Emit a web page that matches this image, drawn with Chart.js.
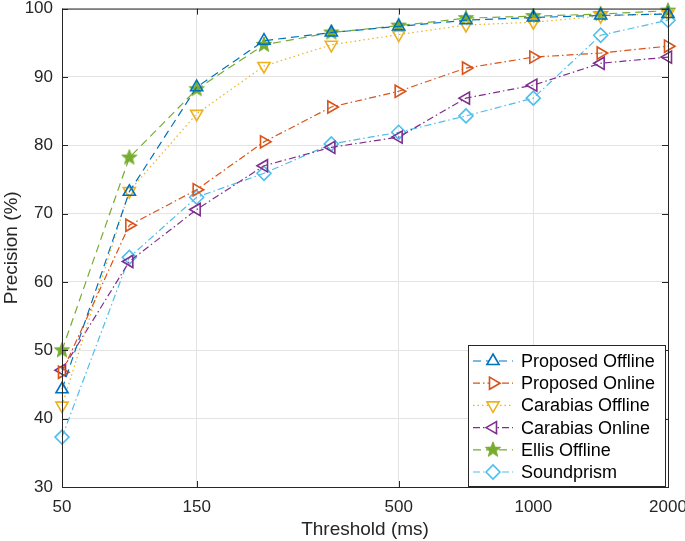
<!DOCTYPE html>
<html>
<head>
<meta charset="utf-8">
<script src="https://cdn.jsdelivr.net/npm/chart.js@4"></script>
<style>
  html, body { margin: 0; padding: 0; background: #fff; }
  #wrap { width: 685px; height: 541px; }
</style>
</head>
<body>
<div id="wrap"><canvas id="chart"></canvas></div>
<script>
// thresholds in ms, one per point (equally spaced on the plot)
const thresholds = [50, 100, 150, 200, 300, 500, 700, 1000, 1500, 2000];
const tickLabels = [50, 150, 500, 1000, 2000];
const yTicks = [30, 40, 50, 60, 70, 80, 90, 100];

const proposedOffline = [44.3, 73.2, 88.5, 95.3, 96.5, 97.4, 98.3, 98.7, 99.0, 99.2];
const proposedOnline  = [46.8, 68.3, 73.5, 80.5, 85.6, 87.9, 91.3, 92.9, 93.5, 94.5];
const carabiasOffline = [41.9, 73.3, 84.6, 91.6, 94.7, 96.2, 97.6, 98.0, 98.9, 99.3];
const carabiasOnline  = [47.1, 63.0, 70.6, 77.0, 79.7, 81.2, 86.9, 88.8, 92.0, 92.9];
const ellisOffline    = [50.0, 78.2, 88.2, 94.7, 96.5, 97.5, 98.6, 98.9, 99.2, 99.7];
const soundprism      = [37.3, 63.6, 72.4, 75.9, 80.2, 81.9, 84.3, 86.9, 96.1, 98.3];

const FONT = "'Liberation Sans', Arial, Helvetica, sans-serif";
const AXIS = "#262626";

function starImage(color, r) {
  const c = document.createElement("canvas");
  const s = Math.ceil(r * 2 + 2);
  c.width = s; c.height = s;
  const g = c.getContext("2d");
  g.translate(s / 2, s / 2);
  g.beginPath();
  for (let i = 0; i < 10; i++) {
    const rr = i % 2 ? r * 0.42 : r;
    const a = -Math.PI / 2 + i * Math.PI / 5;
    g.lineTo(Math.cos(a) * rr, Math.sin(a) * rr);
  }
  g.closePath();
  g.fillStyle = color;
  g.fill();
  g.strokeStyle = color;
  g.lineWidth = 1;
  g.stroke();
  return c;
}

const toPoints = (arr) => arr.map((v, i) => ({ x: i, y: v }));

function series(label, values, color, dash, pointStyle, rotation, radius) {
  return {
    label: label,
    data: toPoints(values),
    borderColor: color,
    backgroundColor: color,
    borderWidth: 1.2,
    borderDash: dash,
    pointStyle: pointStyle,
    rotation: rotation,
    pointRadius: radius,
    pointBorderWidth: 1.6,
    pointBorderColor: color,
    pointBackgroundColor: "rgba(0,0,0,0)",
    pointHoverRadius: radius,
    tension: 0,
    fill: false,
    clip: false,
  };
}

const datasets = [
  series("Proposed Offline", proposedOffline, "#0072BD", [8, 5], "triangle", 0, 7),
  series("Proposed Online", proposedOnline, "#D95319", [7, 3, 1.5, 3], "triangle", 90, 7),
  series("Carabias Offline", carabiasOffline, "#EDB120", [1.5, 3], "triangle", 180, 7),
  series("Carabias Online", carabiasOnline, "#7E2F8E", [7, 3, 1.5, 3], "triangle", 270, 7),
  series("Ellis Offline", ellisOffline, "#77AC30", [8, 5], starImage("#77AC30", 8), 0, 7),
  series("Soundprism", soundprism, "#4DBEEE", [7, 3, 1.5, 3], "rectRot", 0, 7),
];

// axes box, inward tick marks and MATLAB-like legend
const boxPlugin = {
  id: "boxPlugin",
  afterDraw(chart) {
    const { ctx, chartArea: a, scales } = chart;
    ctx.save();
    ctx.strokeStyle = AXIS;
    ctx.lineWidth = 1;
    ctx.strokeRect(a.left + 0.5, a.top + 0.5, a.right - a.left, a.bottom - a.top);
    const tl = 6;
    ctx.beginPath();
    tickLabels.forEach((t) => {
      const x = Math.round(scales.x.getPixelForValue(thresholds.indexOf(t))) + 0.5;
      ctx.moveTo(x, a.bottom); ctx.lineTo(x, a.bottom - tl);
      ctx.moveTo(x, a.top); ctx.lineTo(x, a.top + tl);
    });
    yTicks.forEach((t) => {
      const y = Math.round(scales.y.getPixelForValue(t)) + 0.5;
      ctx.moveTo(a.left, y); ctx.lineTo(a.left + tl, y);
      ctx.moveTo(a.right, y); ctx.lineTo(a.right - tl, y);
    });
    ctx.stroke();

    // legend
    const lx = 468, ly = 345, lw = 197, lh = 141, row = 22.2;
    ctx.fillStyle = "#fff";
    ctx.fillRect(lx, ly, lw, lh);
    ctx.strokeStyle = AXIS;
    ctx.strokeRect(lx + 0.5, ly + 0.5, lw, lh);
    ctx.font = "18px " + FONT;
    ctx.textBaseline = "middle";
    chart.data.datasets.forEach((ds, i) => {
      const y = ly + 16 + i * row;
      ctx.strokeStyle = ds.borderColor;
      ctx.lineWidth = 1.2;
      ctx.setLineDash(ds.borderDash);
      ctx.beginPath();
      ctx.moveTo(lx + 5, y); ctx.lineTo(lx + 45, y);
      ctx.stroke();
      ctx.setLineDash([]);
      ctx.lineWidth = ds.pointBorderWidth;
      ctx.fillStyle = "#fff";
      Chart.helpers.drawPoint(ctx, {
        pointStyle: ds.pointStyle, rotation: ds.rotation, radius: ds.pointRadius,
        borderWidth: ds.pointBorderWidth,
      }, lx + 25, y);
      ctx.fillStyle = "#000";
      ctx.fillText(ds.label, lx + 53, y + 1);
    });
    ctx.restore();
  },
};

new Chart(document.getElementById("chart"), {
  type: "line",
  data: { datasets: datasets },
  options: {
    responsive: true,
    maintainAspectRatio: false,
    animation: false,
    events: [],
    layout: { padding: { top: 4, right: 17, left: 0, bottom: 0 } },
    plugins: { legend: { display: false }, tooltip: { enabled: false } },
    scales: {
      x: {
        type: "linear",
        min: 0,
        max: thresholds.length - 1,
        afterBuildTicks: (scale) => {
          scale.ticks = tickLabels.map((t) => ({ value: thresholds.indexOf(t) }));
        },
        afterFit: (scale) => {
          scale.height = 54;
          scale.paddingLeft = 0;
          scale.paddingRight = 0;
        },
        ticks: {
          autoSkip: false,
          maxRotation: 0,
          padding: 10,
          color: "#262626",
          font: { family: FONT, size: 17 },
          callback: (v) => thresholds[v],
        },
        grid: { color: "#e3e3e3", drawTicks: false },
        border: { display: false },
        title: {
          display: true,
          text: "Threshold (ms)",
          color: "#262626",
          font: { family: FONT, size: 19 },
          padding: 0,
        },
      },
      y: {
        min: 30,
        max: 100,
        afterBuildTicks: (scale) => {
          scale.ticks = yTicks.map((v) => ({ value: v }));
        },
        afterFit: (scale) => {
          scale.width = 62;
          scale.paddingTop = 0;
          scale.paddingBottom = 0;
        },
        ticks: {
          padding: 9,
          color: "#262626",
          font: { family: FONT, size: 17 },
        },
        grid: { color: "#e3e3e3", drawTicks: false },
        border: { display: false },
        title: {
          display: true,
          text: "Precision (%)",
          color: "#262626",
          font: { family: FONT, size: 19 },
          padding: 0,
        },
      },
    },
  },
  plugins: [boxPlugin],
});
</script>
</body>
</html>
